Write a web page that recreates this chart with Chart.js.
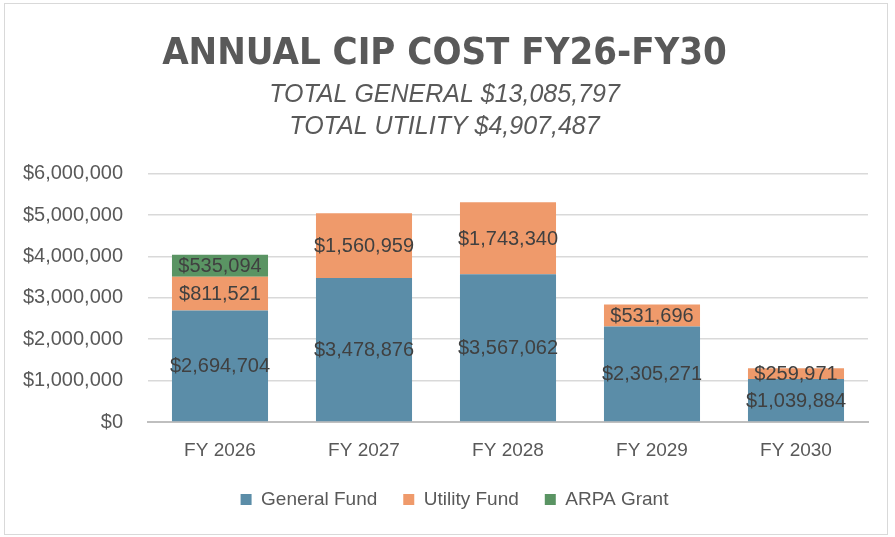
<!DOCTYPE html>
<html>
<head>
<meta charset="utf-8">
<script src="https://cdn.jsdelivr.net/npm/chart.js@4"></script>
<style>
  html, body { margin: 0; padding: 0; background: #ffffff; }
  #wrap { width: 895px; height: 537px; position: relative; }
</style>
</head>
<body>
<div id="wrap"><canvas id="c" width="895" height="537"></canvas></div>
<script>
const categories = ["FY 2026", "FY 2027", "FY 2028", "FY 2029", "FY 2030"];
const generalFund = [2694704, 3478876, 3567062, 2305271, 1039884];
const utilityFund = [811521, 1560959, 1743340, 531696, 259971];
const arpaGrant = [535094, null, null, null, null];
const titleText = "ANNUAL CIP COST FY26-FY30";
const subtitleLines = ["TOTAL GENERAL $13,085,797", "TOTAL UTILITY $4,907,487"];
const yMax = 6000000;
const yStep = 1000000;

const fmt = v => "$" + Math.round(v).toLocaleString("en-US");

const framePlugin = {
  id: "frame",
  beforeDraw(chart) {
    const ctx = chart.ctx;
    ctx.save();
    ctx.fillStyle = "#ffffff";
    ctx.fillRect(0, 0, chart.width, chart.height);
    ctx.strokeStyle = "#d9d9d9";
    ctx.lineWidth = 1;
    ctx.strokeRect(4.5, 3.5, 883, 531);
    ctx.restore();
  }
};

const legendShiftPlugin = {
  id: "legendShift",
  afterLayout(chart) {
    if (chart.legend) {
      chart.legend.left += 10;
      chart.legend.right += 10;
    }
  }
};

const labelPlugin = {
  id: "segLabels",
  afterDatasetsDraw(chart) {
    const ctx = chart.ctx;
    ctx.save();
    ctx.font = "20px 'Liberation Sans', Arial, sans-serif";
    ctx.fillStyle = "#404040";
    ctx.textAlign = "center";
    ctx.textBaseline = "middle";
    chart.data.datasets.forEach((ds, di) => {
      const meta = chart.getDatasetMeta(di);
      meta.data.forEach((el, i) => {
        const v = ds.data[i];
        if (v === null || v === undefined) return;
        const p = el.getCenterPoint();
        ctx.fillText(fmt(v), p.x, p.y + 1);
      });
    });
    ctx.restore();
  }
};

new Chart(document.getElementById("c"), {
  type: "bar",
  data: {
    labels: categories,
    datasets: [
      { label: "General Fund", data: generalFund, backgroundColor: "#5B8DA8" },
      { label: "Utility Fund", data: utilityFund, backgroundColor: "#EF9A6B" },
      { label: "ARPA Grant", data: arpaGrant, backgroundColor: "#5A9463" }
    ]
  },
  options: {
    responsive: false,
    animation: false,
    devicePixelRatio: 1,
    layout: { padding: { left: 21, right: 27, top: 14, bottom: 18 } },
    datasets: { bar: { categoryPercentage: 0.667, barPercentage: 1.0 } },
    plugins: {
      title: {
        display: true,
        text: titleText,
        color: "#595959",
        font: { family: "'Liberation Sans Narrow', 'DejaVu Sans Condensed', Arial, sans-serif", size: 38, weight: "bold" },
        padding: { top: 17, bottom: 2 }
      },
      subtitle: {
        display: true,
        text: subtitleLines,
        color: "#595959",
        font: { family: "'Liberation Sans', Arial, sans-serif", size: 25, style: "italic", lineHeight: 1.28 },
        padding: { top: 0, bottom: 31 }
      },
      legend: {
        position: "bottom",
        labels: {
          color: "#595959",
          boxWidth: 11,
          boxHeight: 11,
          padding: 26,
          font: { family: "'Liberation Sans', Arial, sans-serif", size: 19 }
        }
      },
      tooltip: { enabled: false }
    },
    scales: {
      x: {
        stacked: true,
        grid: { display: false, drawTicks: false },
        border: { display: true, color: "#bfbfbf", width: 2 },
        ticks: { color: "#595959", padding: 17, font: { family: "'Liberation Sans', Arial, sans-serif", size: 19 } },
        afterFit: s => { s.height = 42; }
      },
      y: {
        stacked: true,
        min: 0,
        max: yMax,
        grid: { color: "#d9d9d9", lineWidth: 1.5, drawTicks: false },
        border: { display: false },
        ticks: {
          stepSize: yStep,
          color: "#595959",
          padding: 25,
          font: { family: "'Liberation Sans', Arial, sans-serif", size: 20 },
          callback: v => fmt(v)
        },
        afterFit: s => { s.width = 127; }
      }
    }
  },
  plugins: [framePlugin, legendShiftPlugin, labelPlugin]
});
</script>
</body>
</html>
